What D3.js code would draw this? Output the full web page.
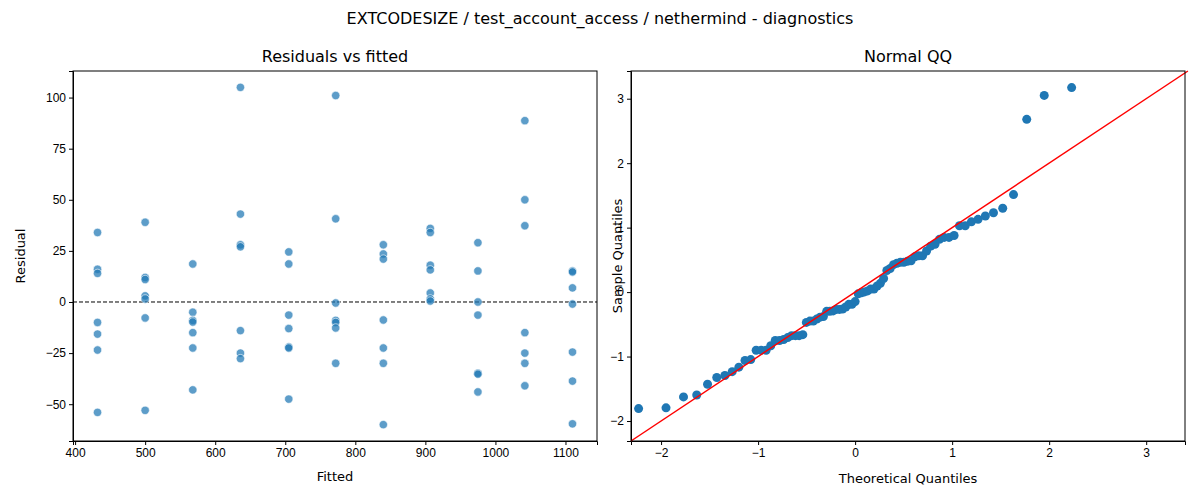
<!DOCTYPE html>
<html><head><meta charset="utf-8">
<script src="https://cdn.jsdelivr.net/npm/d3@7"></script>
<style>
body{margin:0;background:#fff;font-family:"DejaVu Sans",sans-serif;}
.tick text{font-size:12px;fill:#000;}
.tick line,.domain{stroke:#000;}
</style></head><body>
<script>
// fitted level for each column of residuals
var fitted = [432, 500, 568, 636, 705, 772, 840, 907, 975, 1042, 1110]
var residuals = [
    [34, 16, 14, -10, -15.7, -23.5, -54],
    [39, 12, 11, 3, 1.5, -7.8, -53],
    [18.6, -5, -9, -9.8, -15, -22.5, -43],
    [105, 43, 28, 27, -14, -25, -27.7],
    [24.5, 18.6, -6.4, -13, -22, -22.5, -47.5],
    [101, 40.7, -0.5, -9, -10, -12.7, -30],
    [28, 23.5, 21, -8.8, -22.5, -30, -60],
    [36, 34, 18, 15.7, 4.4, 1.5, 0.5],
    [29, 15.2, 0, -6.4, -34.8, -35.3, -44],
    [88.7, 50, 37.3, -15, -25, -30, -41],
    [15.2, 14.7, 6.9, -1, -24.5, -38.7, -59.6]
]
var xTicksLeft = [400, 500, 600, 700, 800, 900, 1000, 1100]
var yTicksLeft = [-50, -25, 0, 25, 50, 75, 100]
var qqTicks = [-2, -1, 0, 1, 2, 3]

var width = 1200, height = 500
var svg = d3.select("body").append("svg").attr("width", width).attr("height", height)

svg.append("text").attr("x", 600).attr("y", 24).attr("text-anchor", "middle")
    .style("font-size", "16px").text("EXTCODESIZE / test_account_access / nethermind - diagnostics")

// left panel
var L = { x0: 73, x1: 597, y0: 71, y1: 441 }
var xL = d3.scaleLinear().domain([397, 1145]).range([L.x0, L.x1])
var yL = d3.scaleLinear().domain([-68, 113]).range([L.y1, L.y0])

var points = []
fitted.forEach(function (f, i) {
    residuals[i].forEach(function (r) { points.push({ x: f, y: r }) })
})

var gl = svg.append("g")
gl.append("g").attr("transform", "translate(0," + L.y1 + ")")
    .call(d3.axisBottom(xL).tickValues(xTicksLeft).tickFormat(d3.format("d")).tickSize(4))
gl.append("g").attr("transform", "translate(" + L.x0 + ",0)")
    .call(d3.axisLeft(yL).tickValues(yTicksLeft).tickFormat(d3.format("d")).tickSize(4))
gl.append("line").attr("x1", L.x0).attr("x2", L.x1).attr("y1", yL(0)).attr("y2", yL(0))
    .style("stroke", "#000").style("stroke-dasharray", "4,2").style("stroke-width", 1)
gl.selectAll("circle").data(points).enter().append("circle")
    .attr("cx", d => xL(d.x)).attr("cy", d => yL(d.y)).attr("r", 4.2)
    .style("fill", "#1f77b4").style("fill-opacity", 0.72)
    .style("stroke", "#fff").style("stroke-width", 0.6)
gl.append("rect").attr("x", L.x0).attr("y", L.y0).attr("width", L.x1 - L.x0).attr("height", L.y1 - L.y0)
    .style("fill", "none").style("stroke", "#000")
gl.append("text").attr("x", (L.x0 + L.x1) / 2).attr("y", 62).attr("text-anchor", "middle")
    .style("font-size", "16px").text("Residuals vs fitted")
gl.append("text").attr("x", (L.x0 + L.x1) / 2).attr("y", 481).attr("text-anchor", "middle")
    .style("font-size", "13px").text("Fitted")
gl.append("text").attr("transform", "translate(25," + (L.y0 + L.y1) / 2 + ") rotate(-90)")
    .attr("text-anchor", "middle").style("font-size", "13px").text("Residual")

// right panel: normal QQ of standardized residuals
function normInv(p) {
    var a = [-39.69683028665376, 220.9460984245205, -275.9285104469687, 138.3577518672690, -30.66479806614716, 2.506628277459239]
    var b = [-54.47609879822406, 161.5858368580409, -155.6989798598866, 66.80131188771972, -13.28068155288572]
    var c = [-0.007784894002430293, -0.3223964580411365, -2.400758277161838, -2.549732539343734, 4.374664141464968, 2.938163982698783]
    var d = [0.007784695709041462, 0.3224671290700398, 2.445134137142996, 3.754408661907416]
    var q, r
    if (p < 0.02425) {
        q = Math.sqrt(-2 * Math.log(p))
        return (((((c[0]*q+c[1])*q+c[2])*q+c[3])*q+c[4])*q+c[5]) / ((((d[0]*q+d[1])*q+d[2])*q+d[3])*q+1)
    } else if (p > 1 - 0.02425) {
        q = Math.sqrt(-2 * Math.log(1 - p))
        return -(((((c[0]*q+c[1])*q+c[2])*q+c[3])*q+c[4])*q+c[5]) / ((((d[0]*q+d[1])*q+d[2])*q+d[3])*q+1)
    }
    q = p - 0.5; r = q * q
    return (((((a[0]*r+a[1])*r+a[2])*r+a[3])*r+a[4])*r+a[5])*q / (((((b[0]*r+b[1])*r+b[2])*r+b[3])*r+b[4])*r+1)
}
var allRes = points.map(d => d.y)
var mean = d3.mean(allRes), sd = d3.deviation(allRes)
var sorted = allRes.map(v => (v - mean) / sd).sort(d3.ascending)
var n = sorted.length
var qq = sorted.map((s, i) => ({ t: normInv((i + 1) / (n + 1)), s: s }))

var R = { x0: 631, x1: 1185, y0: 71, y1: 441 }
var xR = d3.scaleLinear().domain([-2.31, 3.40]).range([R.x0, R.x1])
var yR = d3.scaleLinear().domain([-2.31, 3.43]).range([R.y1, R.y0])
var gr = svg.append("g")
gr.append("g").attr("transform", "translate(0," + R.y1 + ")")
    .call(d3.axisBottom(xR).tickValues(qqTicks).tickFormat(d3.format("d")).tickSize(4))
gr.append("g").attr("transform", "translate(" + R.x0 + ",0)")
    .call(d3.axisLeft(yR).tickValues(qqTicks).tickFormat(d3.format("d")).tickSize(4))
gr.selectAll("circle").data(qq).enter().append("circle")
    .attr("cx", d => xR(d.t)).attr("cy", d => yR(d.s)).attr("r", 4.5)
    .style("fill", "#1f77b4")
gr.append("line").attr("x1", xR(-2.31)).attr("y1", yR(-2.31)).attr("x2", xR(3.43)).attr("y2", yR(3.43))
    .style("stroke", "red").style("stroke-width", 1.5)
gr.append("rect").attr("x", R.x0).attr("y", R.y0).attr("width", R.x1 - R.x0).attr("height", R.y1 - R.y0)
    .style("fill", "none").style("stroke", "#000")
gr.append("text").attr("x", (R.x0 + R.x1) / 2).attr("y", 62).attr("text-anchor", "middle")
    .style("font-size", "16px").text("Normal QQ")
gr.append("text").attr("x", (R.x0 + R.x1) / 2).attr("y", 483).attr("text-anchor", "middle")
    .style("font-size", "13px").text("Theoretical Quantiles")
gr.append("text").attr("transform", "translate(622," + (R.y0 + R.y1) / 2 + ") rotate(-90)")
    .attr("text-anchor", "middle").style("font-size", "13px").text("Sample Quantiles")
</script>
</body></html>
